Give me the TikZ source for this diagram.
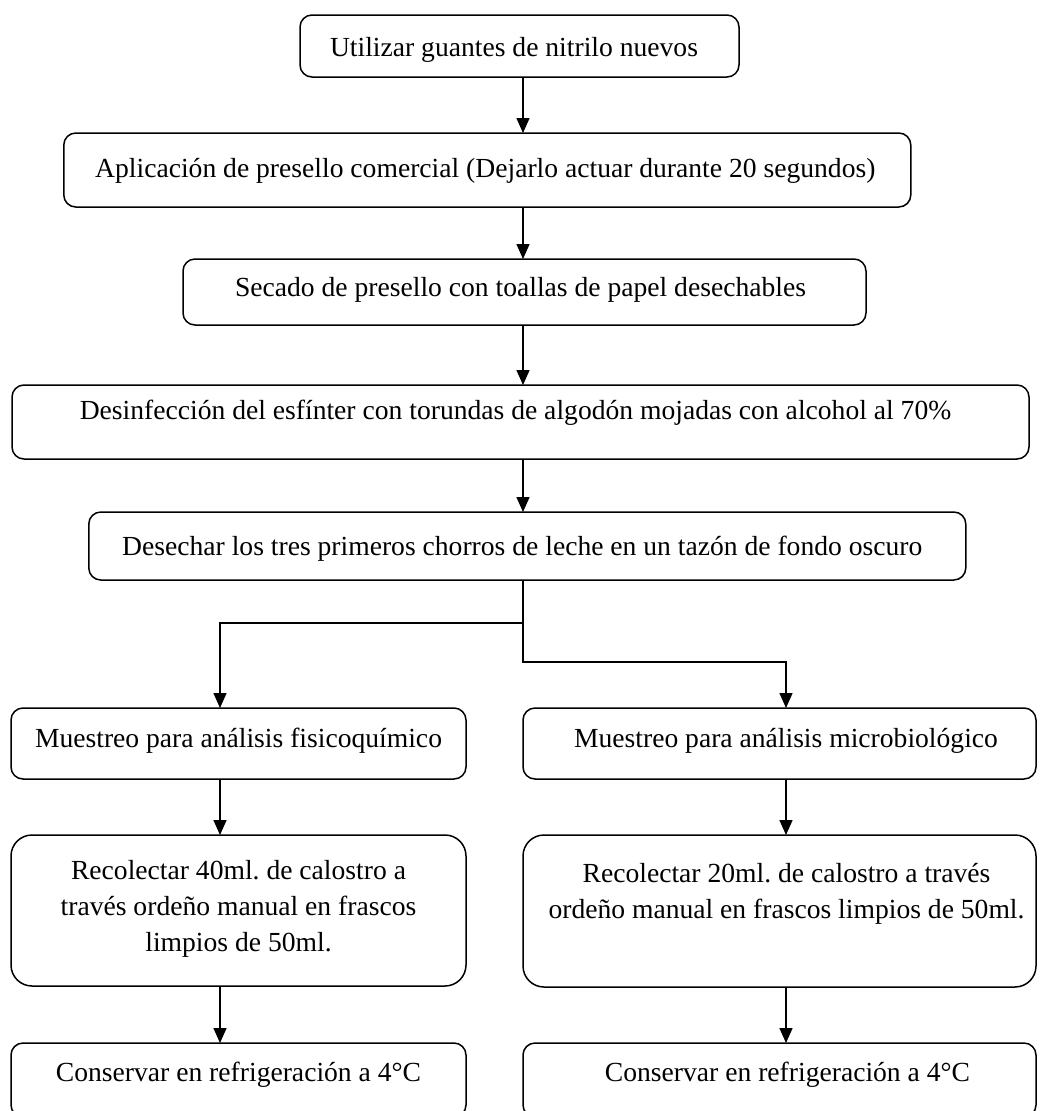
\documentclass[tikz,border=0pt]{standalone}
\usepackage{fontspec}
\setmainfont{Liberation Serif}
\usetikzlibrary{arrows.meta}
\frenchspacing
\newcommand\tx[3]{\raisebox{#2}[0pt][0pt]{\makebox[0pt]{\hspace*{#1}\hspace*{#1}#3}}}
\newcommand\lns[1]{\begin{tabular}[b]{@{}c@{}}#1\end{tabular}}
\begin{document}
\begin{tikzpicture}[x=1pt,y=-1pt,
  box/.style={draw=black, line width=1.5pt, rounded corners=12pt, inner sep=0pt, outer sep=0pt,
    font=\fontsize{27.6}{36}\selectfont},
  bigbox/.style={box, rounded corners=21pt},
  arr/.style={draw=black, line width=1.5pt, -{Triangle[length=15pt,width=13pt]}},
  ln/.style={draw=black, line width=1.5pt}]
\useasboundingbox (0,0) rectangle (1040,1111);
\clip (0,0) rectangle (1040,1111);
\fill[white] (0,0) rectangle (1040,1111);

% column coordinates
\coordinate (tx) at (523,0);
\coordinate (jl) at (523,623);
\coordinate (jb) at (523,662);
\coordinate (dl) at (220,623);
\coordinate (dr) at (786,662);

\node[box, minimum width=439pt, minimum height=62pt] (b1) at (519.5,46)
  {\tx{-5.5pt}{-10pt}{Utilizar guantes de nitrilo nuevos}};
\node[box, minimum width=847pt, minimum height=74pt] (b2) at (487.3,170)
  {\tx{-2pt}{-7pt}{Aplicación de presello comercial (Dejarlo actuar durante 20 segundos)}};
\node[box, minimum width=683pt, minimum height=66pt] (b3) at (524.5,292)
  {\tx{-4pt}{-4pt}{Secado de presello con toallas de papel desechables}};
\node[box, minimum width=1017pt, minimum height=74pt] (b4) at (520.5,422)
  {\tx{-5pt}{3pt}{Desinfección del esfínter con torundas de algodón mojadas con alcohol al 70\%}};
\node[box, minimum width=877pt, minimum height=68pt] (b5) at (527.3,546)
  {\tx{-5pt}{-9pt}{Desechar los tres primeros chorros de leche en un tazón de fondo oscuro}};

\node[box, minimum width=455pt, minimum height=71pt] (b6) at (238.5,743.5)
  {\tx{0pt}{-3.5pt}{Muestreo para análisis fisicoquímico}};
\node[box, minimum width=513pt, minimum height=71pt] (b7) at (779.5,743.5)
  {\tx{6.5pt}{-3.5pt}{Muestreo para análisis microbiológico}};

\node[bigbox, minimum width=455pt, minimum height=151pt] (b8) at (238.5,910.5)
  {\tx{0pt}{-40.5pt}{\lns{Recolectar 40ml. de calostro a\\través ordeño manual en frascos\\limpios de 50ml.}}};
\node[bigbox, minimum width=513pt, minimum height=152pt] (b9) at (779.5,911)
  {\tx{7pt}{-7pt}{\lns{Recolectar 20ml. de calostro a través\\ordeño manual en frascos limpios de 50ml.}}};

\node[box, minimum width=455pt, minimum height=74pt] (b10) at (238.5,1080)
  {\tx{0pt}{-1pt}{Conservar en refrigeración a 4°C}};
\node[box, minimum width=513pt, minimum height=74pt] (b11) at (779.5,1080)
  {\tx{8pt}{-1pt}{Conservar en refrigeración a 4°C}};

% connectors
\draw[arr] (b1.south -| tx) -- (b2.north -| tx);
\draw[arr] (b2.south -| tx) -- (b3.north -| tx);
\draw[arr] (b3.south -| tx) -- (b4.north -| tx);
\draw[arr] (b4.south -| tx) -- (b5.north -| tx);
\draw[arr] (b5.south -| jb) -- (jb) -- (dr) -- (b7.north -| dr);
\draw[arr] (jl) -- (dl) -- (b6.north -| dl);
\draw[arr] (b6.south -| dl) -- (b8.north -| dl);
\draw[arr] (b7.south -| dr) -- (b9.north -| dr);
\draw[arr] (b8.south -| dl) -- (b10.north -| dl);
\draw[arr] (b9.south -| dr) -- (b11.north -| dr);
\end{tikzpicture}
\end{document}
